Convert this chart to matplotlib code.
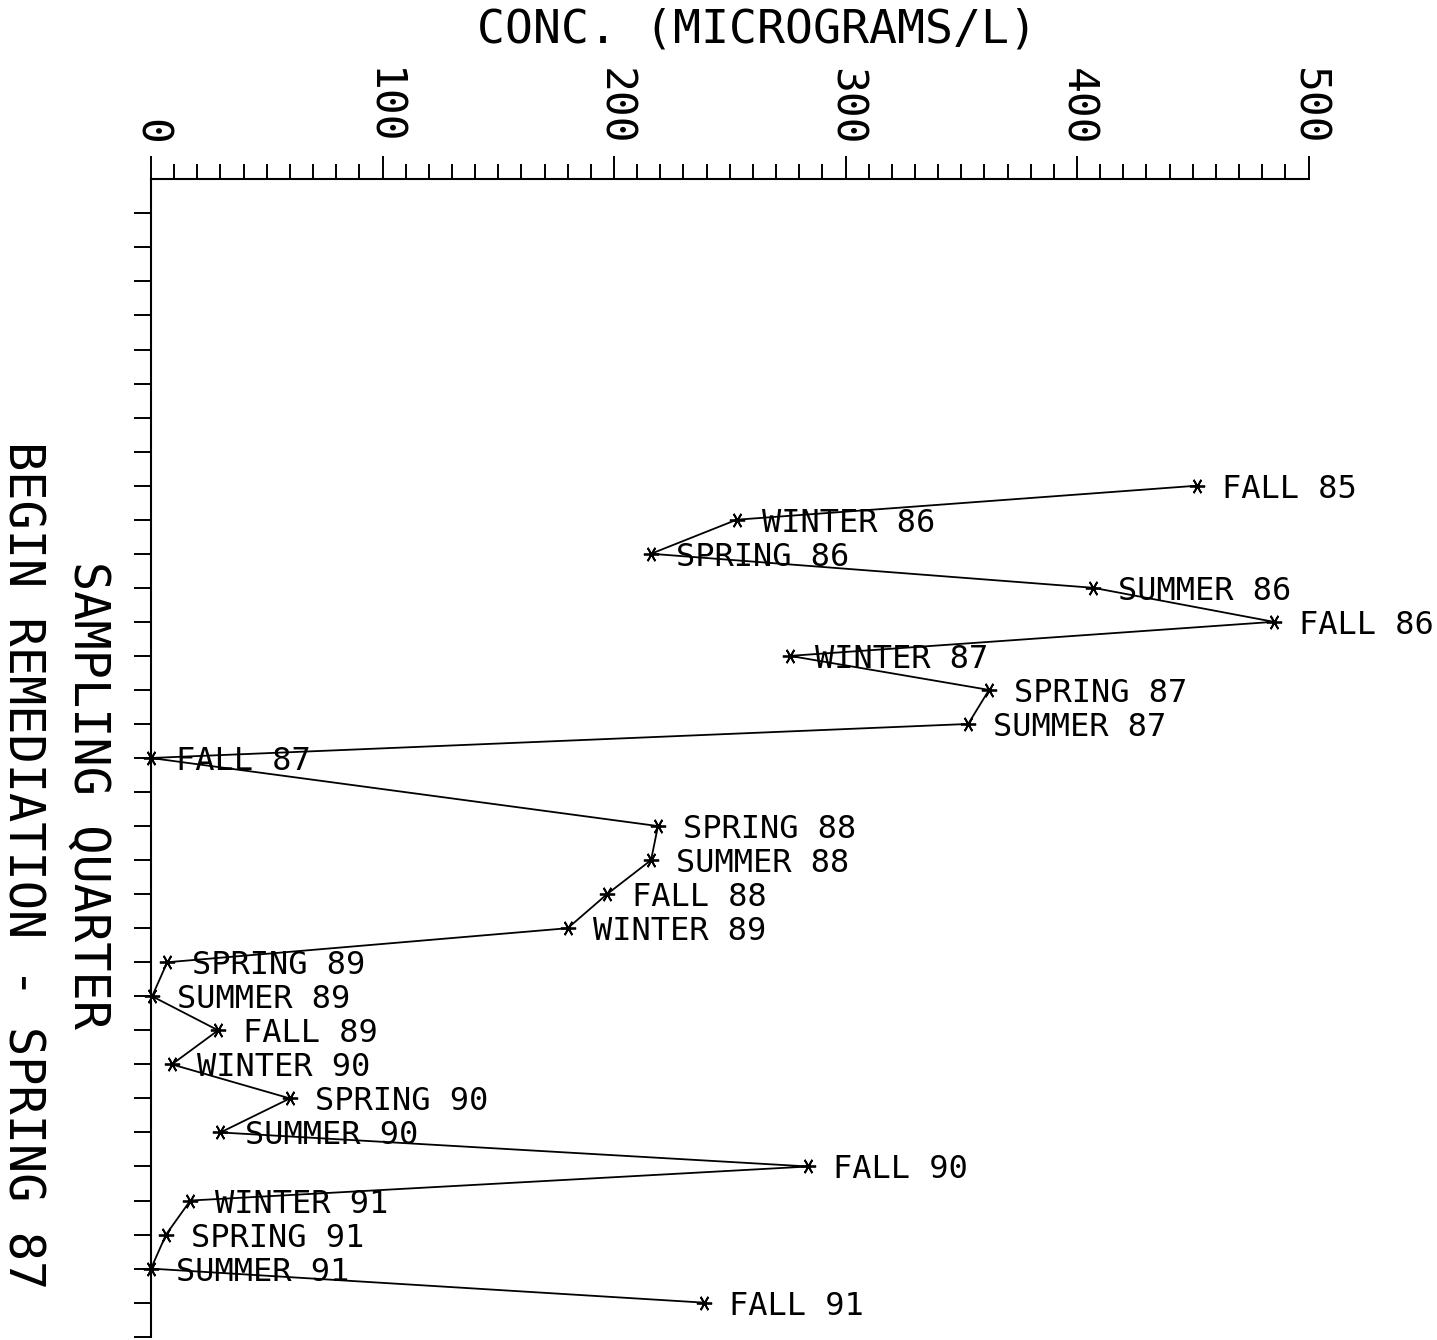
import matplotlib.pyplot as plt
from matplotlib.ticker import MultipleLocator

# sampling quarters and concentration (micrograms/L); WINTER 88 was not sampled
quarters = ["FALL 85", "WINTER 86", "SPRING 86", "SUMMER 86", "FALL 86",
            "WINTER 87", "SPRING 87", "SUMMER 87", "FALL 87",
            "SPRING 88", "SUMMER 88", "FALL 88", "WINTER 89",
            "SPRING 89", "SUMMER 89", "FALL 89", "WINTER 90",
            "SPRING 90", "SUMMER 90", "FALL 90", "WINTER 91",
            "SPRING 91", "SUMMER 91", "FALL 91"]
quarter_pos = [9, 10, 11, 12, 13, 14, 15, 16, 17,
               19, 20, 21, 22, 23, 24, 25, 26,
               27, 28, 29, 30, 31, 32, 33]
conc = [452, 253, 216, 407, 485, 276, 362, 353, 0,
        219, 216, 197, 180, 7, 0.5, 29, 9,
        60, 30, 284, 17, 6.5, 0, 239]

x_ticks = [0, 100, 200, 300, 400, 500]
x_labels = ["0", "100", "200", "300", "400", "500"]

plt.rcParams['font.family'] = ['DejaVu Sans Mono', 'DejaVu Sans']

W, H = 1437, 1340
fig = plt.figure(figsize=(W / 100, H / 100), dpi=100)
ax = fig.add_axes([151 / W, 1 - 1336.7 / H, (1308.5 - 151) / W, (1336.7 - 179.3) / H])

ax.plot(conc, quarter_pos, color='black', lw=1.3,
        marker=(6, 2, 90), markersize=11, markeredgewidth=1.3, clip_on=False)

for q, c, p in zip(quarters, conc, quarter_pos):
    ax.annotate(q, (c, p), xytext=(18, 0), textcoords='offset points',
                ha='left', va='center_baseline', fontsize=23, color='black')

ax.set_xlim(0, 500)
ax.set_ylim(34, 0)

ax.xaxis.tick_top()
ax.set_xticks(x_ticks)
ax.set_xticklabels(x_labels)
ax.xaxis.set_minor_locator(MultipleLocator(10))
ax.tick_params(axis='x', which='major', direction='out', length=16.5, width=1.4,
               pad=8, labelsize=31, labelrotation=-90)
ax.tick_params(axis='x', which='minor', direction='out', length=11, width=1.4)

ax.set_yticks(range(1, 35))
ax.tick_params(axis='y', which='major', direction='out', length=12, width=1.4,
               labelleft=False)

for side in ['right', 'bottom']:
    ax.spines[side].set_visible(False)
for side in ['top', 'left']:
    ax.spines[side].set_linewidth(1.5)

fig.text(757 / W, 1 - 30 / H, "CONC. (MICROGRAMS/L)", ha='center', va='center',
         fontsize=33.5)
fig.text(88 / W, 1 - 795 / H, "SAMPLING QUARTER", rotation=-90,
         ha='center', va='center', fontsize=35)
fig.text(22 / W, 1 - 865 / H, "BEGIN REMEDIATION - SPRING 87", rotation=-90,
         ha='center', va='center', fontsize=35)

fig.savefig("out.png", dpi=100)
